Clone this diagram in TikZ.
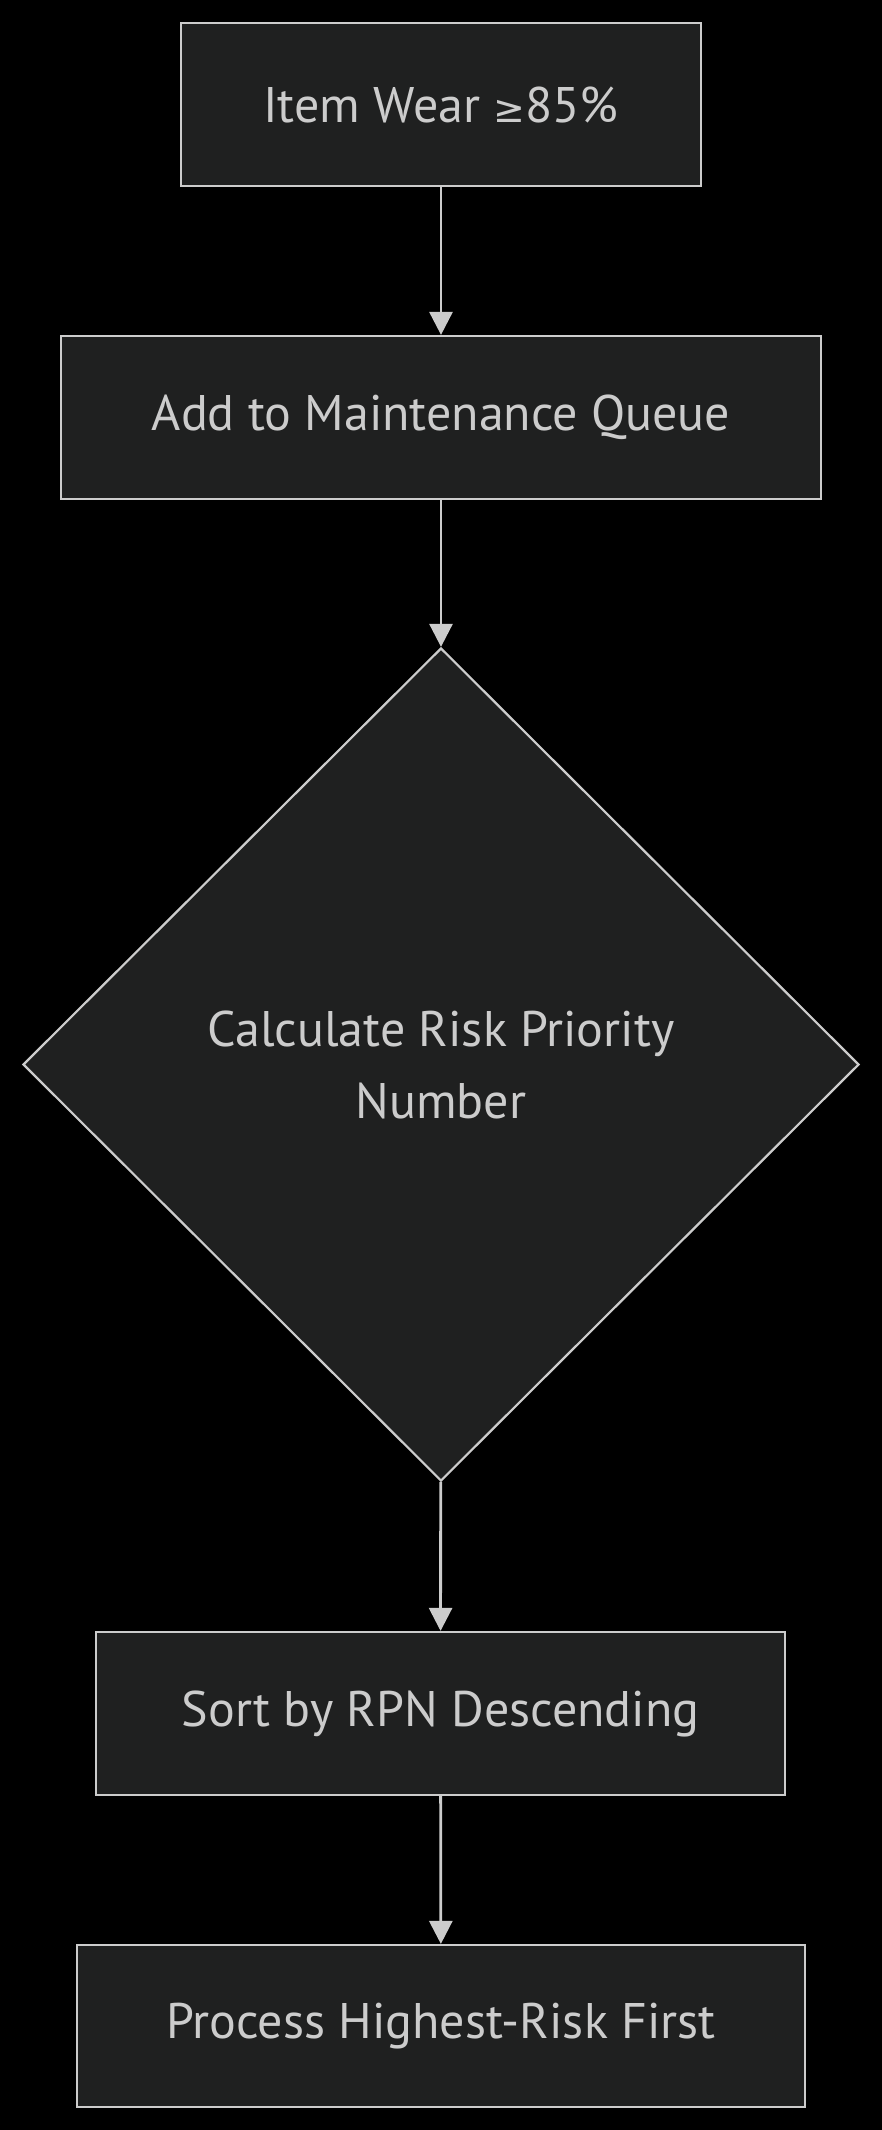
\documentclass[tikz,border=0pt]{standalone}
\usepackage{fontspec}
\setmainfont{PT Sans}
\newfontfamily\symfont{DejaVu Sans}
\usetikzlibrary{shapes.geometric,arrows.meta}
\definecolor{nodefill}{HTML}{1F2020}
\definecolor{edge}{HTML}{CCCCCC}
\definecolor{txt}{HTML}{CCCCCC}
\tikzset{
  box/.style={draw=edge, fill=nodefill, line width=1.1pt, text=txt, inner sep=0pt, minimum height=81.5pt, font=\fontsize{25pt}{36pt}\selectfont},
  decision/.style={diamond, draw=edge, fill=nodefill, line width=1.1pt, text=txt, inner sep=0pt, align=center, font=\fontsize{25pt}{36pt}\selectfont},
  flow/.style={draw=edge, line width=1.4pt, -{Triangle[width=11.5pt,length=11.5pt]}}
}
\begin{document}
\begin{tikzpicture}[x=0.5pt,y=-0.5pt]
\fill[black] (0,0) rectangle (882,2130);
\useasboundingbox (0,0) rectangle (882,2130);
\node[box, minimum width=260pt] (a) at (441,104.5) {Item Wear {\symfont\fontsize{19pt}{36pt}\selectfont ≥}85\%};
\node[box, minimum width=380pt] (b) at (441,417.5) {Add to Maintenance Queue};
\node[decision, minimum width=418pt, minimum height=416.5pt] (c) at (441,1064.5) {Calculate Risk Priority\\Number};
\node[box, minimum width=344.5pt] (d) at (440.5,1713.5) {Sort by RPN Descending};
\node[box, minimum width=364pt, minimum height=81pt] (e) at (441,2026) {Process Highest-Risk First};
\draw[flow] (a) -- (b);
\draw[flow] (b) -- (c);
\draw[flow] (c) -- (d);
\draw[flow] (d) -- (e);
\end{tikzpicture}
\end{document}
